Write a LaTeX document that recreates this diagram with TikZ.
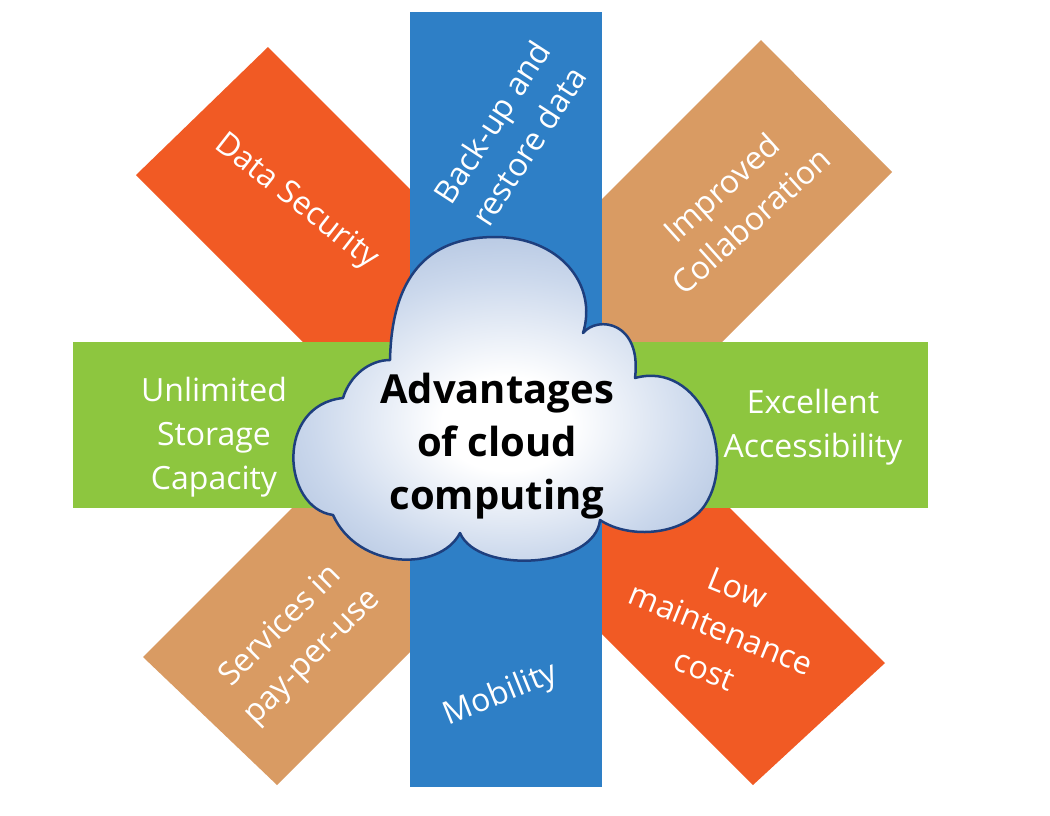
\documentclass[tikz,border=0pt]{standalone}
\usepackage{fontspec}
\setmainfont{Open Sans}
\definecolor{cblue}{HTML}{2E7FC6}
\definecolor{cgreen}{HTML}{8DC63F}
\definecolor{corange}{HTML}{F15A24}
\definecolor{ctan}{HTML}{D99B63}
\definecolor{cloudmid}{HTML}{CBD8EC}
\definecolor{cloudmid2}{HTML}{A0B6D8}
\definecolor{cloudedge}{HTML}{7F9AC5}
\definecolor{cloudline}{HTML}{1E3F7E}
\pgfdeclareradialshading{cloudshade}{\pgfpoint{0bp}{-3bp}}{color(0bp)=(white); color(7bp)=(white); color(21bp)=(cloudmid); color(35bp)=(cloudmid2); color(50bp)=(cloudedge)}
\tikzset{
  band/.style={draw=none},
  lab/.style={text=white, font=\fontsize{32}{44}\selectfont, align=center, inner sep=0pt},
  title/.style={text=black, font=\bfseries\fontsize{40}{53}\selectfont, align=center, inner sep=0pt},
  cloudbody/.style={shading=cloudshade, draw=cloudline, line width=2.5pt, line join=round}
}
\begin{document}
\begin{tikzpicture}[x=1pt,y=-1pt]
\useasboundingbox (0,0) rectangle (1050,815);
\fill[white] (0,0) rectangle (1050,815);
% diagonal bands
\fill[band, fill=corange] (268,47) -- (136,175) -- (433,472) -- (565,344) -- cycle;
\fill[band, fill=ctan] (761,40) -- (892,172) -- (595,469) -- (464,337) -- cycle;
\fill[band, fill=ctan] (143,657) -- (277,785) -- (574,488) -- (440,360) -- cycle;
\fill[band, fill=corange] (885,663) -- (753,785) -- (456,488) -- (588,366) -- cycle;
% horizontal and vertical bands
\fill[band, fill=cgreen] (73,342) rectangle (928,508);
\fill[band, fill=cblue] (410,12) rectangle (602,787);
% cloud
\path[cloudbody] (390,360)
 .. controls (392,268) and (435,237) .. (495,237)
 .. controls (560,237) and (598,285) .. (583,333)
 .. controls (598,315) and (642,322) .. (635,378)
 .. controls (700,360) and (738,455) .. (705,505)
 .. controls (685,535) and (630,540) .. (600,520)
 .. controls (595,568) and (478,575) .. (460,533)
 .. controls (440,572) and (358,570) .. (333,515)
 .. controls (282,508) and (275,405) .. (343,398)
 .. controls (350,375) and (370,360) .. (390,360) -- cycle;
\node[title] (t) at (497,446) {Advantages\\of cloud\\computing};
% labels
\node[lab] (stor) at (214,437) {Unlimited\\Storage\\Capacity};
\node[lab] (acc) at (813,427) {Excellent\\Accessibility};
\node[lab, rotate=57] (back) at (510,134) {Back-up and\\restore data};
\node[lab, rotate=22] (mob) at (501,695) {Mobility};
\node[lab, rotate=-38] (sec) at (296,202) {Data Security};
\node[lab, rotate=42] (col) at (736,204) {Improved\\Collaboration};
\node[lab, rotate=45] (pay) at (297,642) {Services in\\pay-per-use};
\node[lab, rotate=-22] (low) at (721,629) {Low\\maintenance\\cost};
\end{tikzpicture}
\end{document}
